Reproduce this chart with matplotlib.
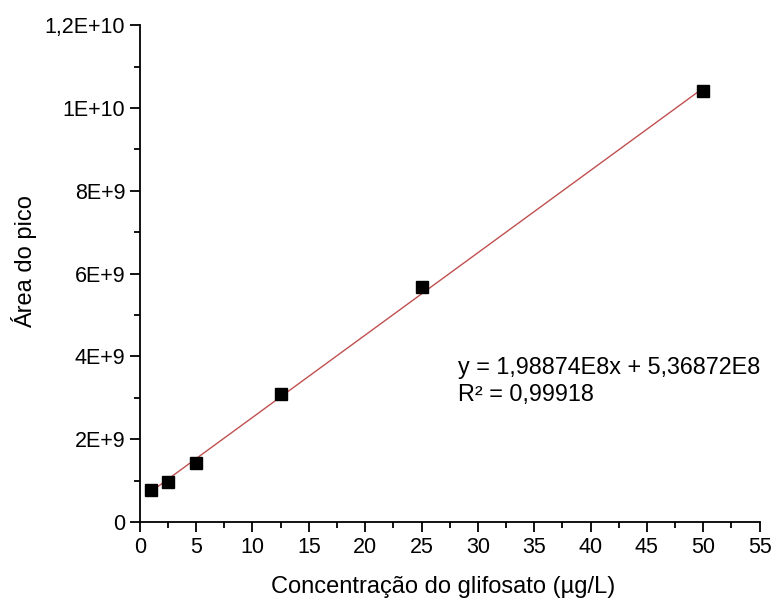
import numpy as np
import matplotlib.pyplot as plt
from matplotlib.ticker import MultipleLocator

plt.rcParams['font.family'] = ['Liberation Sans', 'DejaVu Sans']

# calibration points
conc = [1, 2.5, 5, 12.5, 25, 50]
area = [0.77e9, 0.97e9, 1.42e9, 3.09e9, 5.68e9, 10.41e9]

slope = 1.98874e8
intercept = 5.36872e8

xticks = [0, 5, 10, 15, 20, 25, 30, 35, 40, 45, 50, 55]
yticks = [0, 2e9, 4e9, 6e9, 8e9, 1e10, 1.2e10]
ytick_labels = ['0', '2E+9', '4E+9', '6E+9', '8E+9', '1E+10', '1,2E+10']

fig = plt.figure(figsize=(7.72, 5.98), dpi=100)
ax = fig.add_axes([0.181, 0.127, 0.803, 0.831])

xfit = np.array([min(conc), max(conc)])
ax.plot(xfit, slope * xfit + intercept, color='#c05050', lw=1)
ax.plot(conc, area, 's', color='black', ms=8.5, zorder=3)

ax.set_xlim(0, 55)
ax.set_ylim(0, 1.2e10)
ax.set_xticks(xticks)
ax.set_xticklabels([str(t) for t in xticks])
ax.set_yticks(yticks)
ax.set_yticklabels(ytick_labels)
ax.xaxis.set_minor_locator(MultipleLocator(2.5))
ax.yaxis.set_minor_locator(MultipleLocator(1e9))

for s in ['top', 'right']:
    ax.spines[s].set_visible(False)
for s in ['left', 'bottom']:
    ax.spines[s].set_linewidth(1.3)
ax.tick_params(which='major', direction='out', length=7, width=1.3, labelsize=15.5)
ax.tick_params(which='minor', direction='out', length=4, width=1.3)

ax.set_xlabel('Concentração do glifosato (µg/L)', fontsize=17)
ax.set_ylabel('Área do pico', fontsize=17)
ax.xaxis.set_label_coords(0.49, -0.108)
ax.yaxis.set_label_coords(-0.166, 0.525)

ax.text(28.2, 4.0e9, 'y = 1,98874E8x + 5,36872E8\nR² = 0,99918', fontsize=16.8,
        va='top', ha='left', linespacing=1.2)

fig.savefig('out.png', dpi=100)
